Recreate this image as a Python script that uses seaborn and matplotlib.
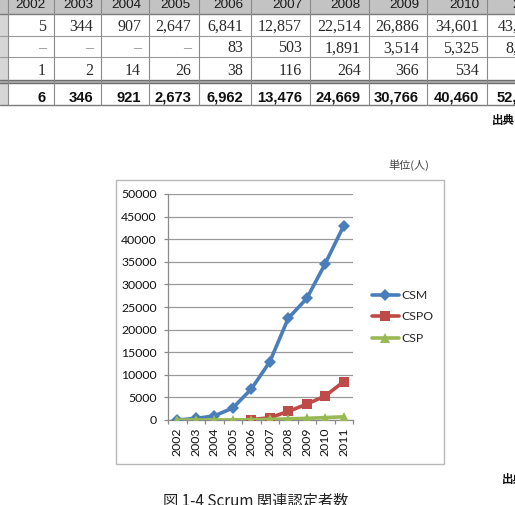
import numpy as np
import pandas as pd
import matplotlib
matplotlib.use("Agg")
import matplotlib.pyplot as plt
import seaborn as sns
from matplotlib.patches import Rectangle
from matplotlib.lines import Line2D

# ---------------- data ----------------
years = [2002, 2003, 2004, 2005, 2006, 2007, 2008, 2009, 2010, 2011]
csm = [5, 344, 907, 2647, 6841, 12857, 22514, 26886, 34601, 43000]
cspo = [np.nan, np.nan, np.nan, np.nan, 83, 503, 1891, 3514, 5325, 8500]
csp = [1, 2, 14, 26, 38, 116, 264, 366, 534, 700]
total = [6, 346, 921, 2673, 6962, 13476, 24669, 30766, 40460, 52200]
series_names = ["CSM", "CSPO", "CSP"]
year_labels = [str(y) for y in years]
y_ticks = [0, 5000, 10000, 15000, 20000, 25000, 30000, 35000, 40000, 45000, 50000]
unit_label = "単位(人)"
source_label = "出典"
caption = "図 1-4 Scrum 関連認定者数"

sns.set_theme(style="white")
plt.rcParams["font.family"] = ["Lato", "DejaVu Sans"]

W, H = 515, 505
fig = plt.figure(figsize=(W / 100, H / 100), dpi=100)
fig.patch.set_facecolor("white")

# overlay axes in pixel coordinates (y downwards)
ov = fig.add_axes([0, 0, 1, 1])
ov.set_xlim(0, W)
ov.set_ylim(H, 0)
ov.axis("off")

# ---------------- table ----------------
cols = [8, 54, 101, 149, 199, 251, 310, 369, 427, 487, 549.5]
ov.add_patch(Rectangle((0, -12), 552, 26, fc="#c3c3c3", ec="none", zorder=1))
ov.add_patch(Rectangle((0, 14), 8, 91, fc="#d6d6d6", ec="none", zorder=1))
ov.add_patch(Rectangle((0, 80), 552, 3, fc="#b0b0b0", ec="none", zorder=1))
for yb, c, lw in [(14, "#7a7a7a", 1.0), (36, "#9a9a9a", 0.8), (57, "#9a9a9a", 0.8),
                  (80, "#6e6e6e", 1.0), (83, "#6e6e6e", 1.0), (105, "#7a7a7a", 1.0)]:
    ov.add_line(Line2D([0, 552], [yb, yb], color=c, lw=lw, zorder=2))
for xb in cols:
    ov.add_line(Line2D([xb, xb], [-12, 105], color="#8a8a8a", lw=0.8, zorder=2))

def fmt(v):
    if v is None or (isinstance(v, float) and np.isnan(v)):
        return "–"
    return f"{int(v):,}"

for i, yr in enumerate(year_labels):
    xr = cols[i + 1] - 8
    ov.text(xr, 8.3, yr, ha="right", va="baseline", family="Liberation Sans",
            size=9.7, color="#1a1a1a", zorder=3)
    for vals, base in [(csm, 31), (cspo, 52.3), (csp, 75)]:
        s = fmt(vals[i])
        ov.text(xr, base, s, ha="right", va="baseline", family="Liberation Serif",
                size=11.5, color="#888888" if s == "–" else "#2a2a2a", zorder=3)
    ov.text(xr, 101.7, fmt(total[i]), ha="right", va="baseline", family="Liberation Sans",
            size=10.6, fontweight="semibold", color="#111111", zorder=3)

ov.text(492, 124, source_label, family=["Noto Sans CJK JP"], size=8.3,
        fontweight="bold", color="#111111", va="baseline")

# ---------------- chart ----------------
ov.add_patch(Rectangle((115.5, 179.5), 328, 284.5, fill=False, ec="#b8b8b8", lw=1.0))
ov.text(388, 168.5, unit_label, family=["Noto Sans CJK JP"], size=8, color="#444444",
        va="baseline")

ax = fig.add_axes([168 / W, (H - 420) / H, 185 / W, 226 / H])
ax.set_facecolor("none")

df = pd.DataFrame({
    "year": years * 3,
    "value": csm + cspo + csp,
    "series": [n for n in series_names for _ in years],
})
palette = {"CSM": "#4a7ebb", "CSPO": "#be4b48", "CSP": "#98b954"}
markers = {"CSM": "D", "CSPO": "s", "CSP": "^"}
sns.lineplot(data=df, x="year", y="value", hue="series", style="series",
             hue_order=series_names, style_order=series_names, palette=palette,
             markers=markers, dashes=False, lw=2.6, markersize=6.5,
             markeredgewidth=0, ax=ax, zorder=3)

ax.set_xlim(2001.5, 2011.5)
ax.set_ylim(0, 50000)
ax.set_yticks(y_ticks)
ax.set_yticklabels([str(t) for t in y_ticks])
ax.set_xticks(years)
ax.set_xticklabels(year_labels, rotation=90)
ax.set_xticks([y + 0.5 for y in [2001] + years], minor=True)
ax.set_xlabel("")
ax.set_ylabel("")
ax.yaxis.grid(True, color="#9a9a9a", lw=0.9)
ax.xaxis.grid(False)
for s in ["top", "right"]:
    ax.spines[s].set_visible(False)
for s in ["left", "bottom"]:
    ax.spines[s].set_visible(True)
    ax.spines[s].set_color("#8a8a8a")
    ax.spines[s].set_linewidth(0.9)
ax.tick_params(axis="y", which="major", length=3, width=0.9, color="#8a8a8a",
               pad=5, labelsize=8.8, labelcolor="#111111", left=True)
ax.tick_params(axis="x", which="major", length=0, pad=5.5, labelsize=8.8,
               labelcolor="#111111")
ax.tick_params(axis="x", which="minor", length=3, width=0.9, color="#8a8a8a",
               bottom=True)

handles, labels = ax.get_legend_handles_labels()
leg = ax.legend(handles, labels, loc="upper left", bbox_to_anchor=(372, 290),
                bbox_transform=ov.transData, frameon=False, borderpad=0,
                borderaxespad=0, handlelength=2.2, handletextpad=0.2,
                labelspacing=0.85, fontsize=8.8)
for h in leg.legend_handles:
    h.set_markeredgewidth(0)
    h.set_linewidth(2.6)

# ---------------- bottom texts ----------------
ov.text(502, 482.5, source_label, family=["Noto Sans CJK JP"], size=8.3,
        fontweight="bold", color="#111111", va="baseline")
ov.text(256, 506, caption, family=["Noto Sans CJK JP", "DejaVu Sans"], size=11,
        color="#222222", ha="center", va="baseline")

fig.savefig("out.png", dpi=100)
